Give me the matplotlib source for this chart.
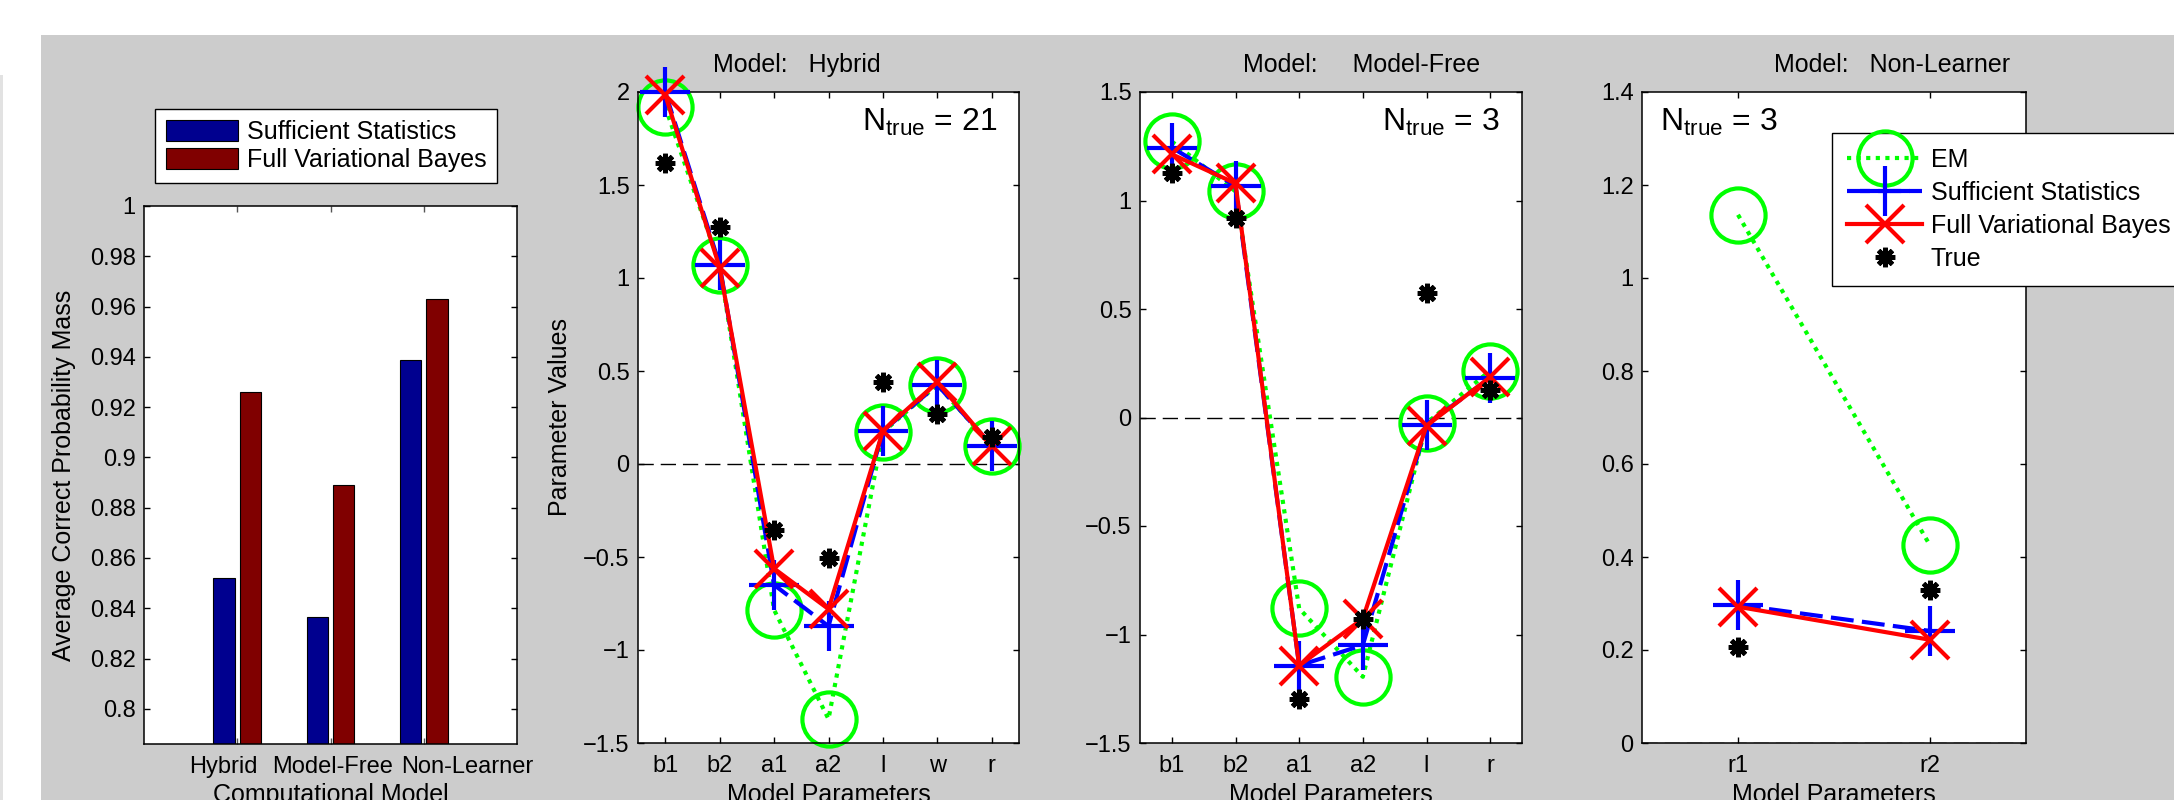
import numpy as np
import matplotlib
matplotlib.use('Agg')
import matplotlib.pyplot as plt
from matplotlib.patches import Rectangle
from matplotlib.ticker import FuncFormatter

plt.rcParams['font.family'] = ['Liberation Sans', 'DejaVu Sans']
plt.rcParams['mathtext.default'] = 'regular'

W, H = 2174, 800

# bar chart data
bar_models = ['Hybrid', 'Model-Free', 'Non-Learner']
bar_ss = [0.852, 0.8365, 0.9387]
bar_fvb = [0.926, 0.889, 0.9632]

# Hybrid model parameters
params_h = ['b1', 'b2', 'a1', 'a2', 'l', 'w', 'r']
em_h = [1.92, 1.07, -0.784, -1.371, 0.171, 0.426, 0.097]
ss_h = [2.0, 1.07, -0.65, -0.872, 0.178, 0.426, 0.099]
fvb_h = [1.985, 1.056, -0.562, -0.78, 0.178, 0.44, 0.097]
true_h = [1.618, 1.274, -0.356, -0.507, 0.44, 0.269, 0.143]

# Model-Free parameters
params_mf = ['b1', 'b2', 'a1', 'a2', 'l', 'r']
em_mf = [1.272, 1.042, -0.880, -1.195, -0.026, 0.216]
ss_mf = [1.244, 1.067, -1.143, -1.049, -0.033, 0.183]
fvb_mf = [1.213, 1.079, -1.143, -0.927, -0.038, 0.186]
true_mf = [1.126, 0.919, -1.296, -0.927, 0.574, 0.127]

# Non-Learner parameters
params_nl = ['r1', 'r2']
em_nl = [1.136, 0.425]
ss_nl = [0.297, 0.241]
fvb_nl = [0.293, 0.222]
true_nl = [0.207, 0.328]

n_true = {'Hybrid': 21, 'Model-Free': 3, 'Non-Learner': 3}


def rect(x0, y0, x1, y1):
    return [x0 / W, 1 - y1 / H, (x1 - x0) / W, (y1 - y0) / H]


def fmt(v, pos):
    s = '%g' % round(v, 4)
    return s.replace('-', '\u2212')


def style_axes(ax):
    ax.set_facecolor('white')
    for sp in ax.spines.values():
        sp.set_linewidth(1.1)
    ax.tick_params(direction='in', length=4, width=1, top=True, right=True,
                   labelsize=17, pad=6)
    ax.tick_params(axis='x', pad=9)
    ax.yaxis.set_major_formatter(FuncFormatter(fmt))


fig = plt.figure(figsize=(W / 100, H / 100), dpi=100)
fig.patch.set_facecolor('white')
fig.patches.append(Rectangle((41 / W, 0), 1, 1 - 35 / H, transform=fig.transFigure,
                             facecolor='#cccccc', edgecolor='none', zorder=-10))
fig.patches.append(Rectangle((0, 0), 3 / W, 1 - 75 / H, transform=fig.transFigure,
                             facecolor='#e2e2e2', edgecolor='none', zorder=-10))

# ---- bar chart ----
ax0 = fig.add_axes(rect(144, 206, 517, 744))
style_axes(ax0)
xb = np.arange(1, len(bar_models) + 1)
ax0.bar(xb - 0.14, bar_ss, 0.23, color='#00008f', edgecolor='black', linewidth=0.8,
        label='Sufficient Statistics')
ax0.bar(xb + 0.14, bar_fvb, 0.23, color='#800000', edgecolor='black', linewidth=0.8,
        label='Full Variational Bayes')
ax0.set_xlim(0, 4)
ax0.set_ylim(0.786, 1.0)
ax0.set_yticks(np.round(np.arange(0.8, 1.001, 0.02), 2))
ax0.set_xticks(xb)
ax0.set_xticklabels([''] * len(bar_models))
ax0.tick_params(axis='x', colors='#555555')
# labels sit as in the original, spread wider than the ticks
for xl, lab in zip([0.85, 2.02, 3.47], bar_models):
    ax0.text(xl, -(767 - 744) / 538, lab, transform=ax0.get_xaxis_transform(),
             ha='center', va='center', fontsize=17)
ax0.set_ylabel('Average Correct Probability Mass', fontsize=18, labelpad=10)
ax0.set_xlabel('Computational Model', fontsize=18)
ax0.xaxis.set_label_coords(0.5, -(783 - 744) / 538)
ax0.legend(loc='upper left', bbox_to_anchor=(155 / W, 1 - 109 / H),
           bbox_transform=fig.transFigure, fontsize=18, frameon=True, fancybox=False,
           edgecolor='black', framealpha=1, borderaxespad=0, borderpad=0.42,
           handlelength=2.9, handleheight=0.95, handletextpad=0.35, labelspacing=0.15)

# ---- parameter panels ----
panels = [
    ('Hybrid', params_h, em_h, ss_h, fvb_h, true_h, (638, 92, 1019, 743), (-1.5, 2),
     np.arange(-1.5, 2.01, 0.5), 797),
    ('Model-Free', params_mf, em_mf, ss_mf, fvb_mf, true_mf, (1140, 92, 1522, 743), (-1.5, 1.5),
     np.arange(-1.5, 1.51, 0.5), 1362),
    ('Non-Learner', params_nl, em_nl, ss_nl, fvb_nl, true_nl, (1642, 92, 2026, 743), (0, 1.4),
     np.arange(0, 1.41, 0.2), 1892),
]

gap = {'Hybrid': '   ', 'Model-Free': '     ', 'Non-Learner': '   '}

for name, pars, em, ss, fvb, tr, box, ylim, yt, tx in panels:
    ax = fig.add_axes(rect(*box))
    style_axes(ax)
    x = np.arange(1, len(pars) + 1)
    ax.axhline(0, color='black', lw=1, ls=(0, (11, 5)), zorder=1)
    ax.plot(x, em, color='#00ff00', lw=3, ls=(0, (1, 1.3)), marker='o', ms=39,
            mfc='none', mew=3, clip_on=False, label='EM', zorder=2)
    ax.plot(x, ss, color='#0000ff', lw=3, ls=(0, (5.5, 2)), marker='+', ms=36,
            mew=3, clip_on=False, label='Sufficient Statistics', zorder=3)
    ax.plot(x, fvb, color='#ff0000', lw=3, ls='-', marker='x', ms=27,
            mew=3, clip_on=False, label='Full Variational Bayes', zorder=4)
    ax.plot(x, tr, ls='none', color='black', marker=(8, 2, 0), ms=14, mew=3.5,
            clip_on=False, label='True', zorder=5)
    ax.set_xlim(0.5, len(pars) + 0.5)
    ax.set_ylim(*ylim)
    ax.set_yticks(yt)
    ax.set_xticks(x)
    ax.set_xticklabels(pars)
    ax.set_xlabel('Model Parameters', fontsize=18)
    ax.xaxis.set_label_coords(0.5, -(783 - box[3]) / (box[3] - box[1]))
    if name == 'Hybrid':
        ax.set_ylabel('Parameter Values', fontsize=18, labelpad=8)
    fig.text(tx / W, 1 - 65 / H, 'Model:' + gap[name] + name, fontsize=18,
             ha='center', va='center')
    label = 'N$_{true}$ = %d' % n_true[name]
    if name == 'Non-Learner':
        fig.text(1660 / W, 1 - 131 / H, label, fontsize=23, ha='left', va='baseline')
        ax.legend(loc='upper left', bbox_to_anchor=(1832 / W, 1 - 133 / H),
                  bbox_transform=fig.transFigure, fontsize=18, frameon=True,
                  fancybox=False, edgecolor='black', framealpha=1, borderaxespad=0,
                  borderpad=0.6, numpoints=1, handlelength=3.0, handletextpad=0.35,
                  labelspacing=0.36)
    else:
        fig.text(box[2] / W - 22 / W, 1 - 131 / H, label, fontsize=23,
                 ha='right', va='baseline')

fig.savefig('out.png', dpi=100)
